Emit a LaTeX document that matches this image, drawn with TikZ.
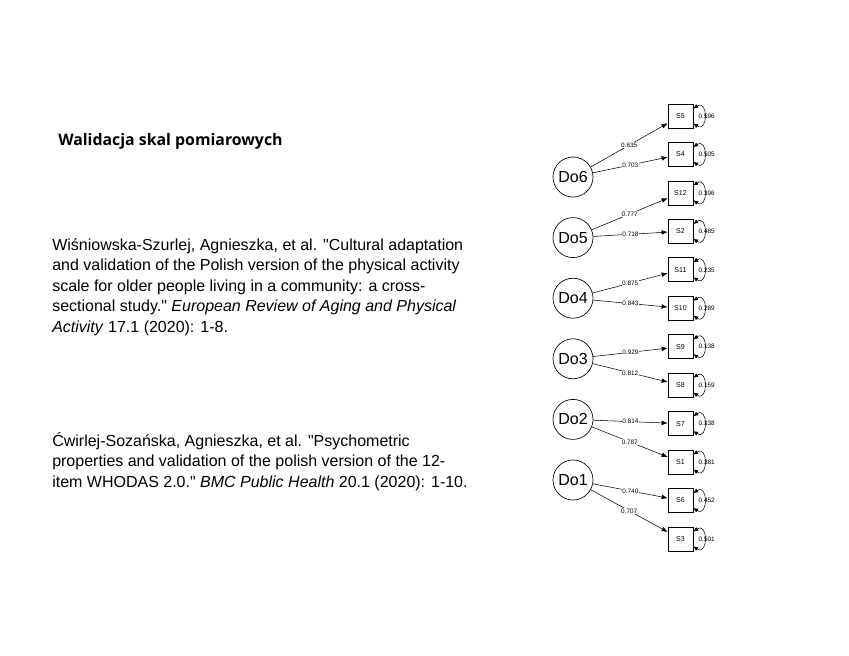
\documentclass[tikz,border=0pt]{standalone}
\usepackage{fontspec}
\setmainfont{Liberation Sans}[Ligatures=TeXOff]
\newfontfamily\titlefont{Open Sans}
\usetikzlibrary{arrows.meta}
\begin{document}
\begin{tikzpicture}[x=0.75pt,y=-0.75pt,
  latent/.style={circle,draw,line width=0.5pt,minimum size=30pt,inner sep=0pt,font=\fontsize{12}{14}\selectfont},
  manifest/.style={rectangle,draw,line width=0.5pt,minimum width=18.75pt,minimum height=18pt,inner sep=0pt,font=\fontsize{5.3}{6}\selectfont},
  load/.style={-{Latex[length=4.5pt,width=3.5pt]},line width=0.4pt},
  loadlab/.style={fill=white,inner sep=0.3pt,font=\fontsize{4.8}{5}\selectfont},
  reslab/.style={inner sep=0pt,font=\fontsize{4.8}{5}\selectfont},
  resid/.style={{Latex[length=3.5pt,width=3.2pt]}-{Latex[length=3.5pt,width=3.2pt]},line width=0.4pt},
  para/.style={anchor=north west,align=left,inner sep=0pt,font=\fontsize{12}{15.4}\selectfont}
]
\useasboundingbox (0,0) rectangle (849,656);
% title
\node[anchor=base west,inner sep=0pt,font=\titlefont\bfseries\fontsize{11.9}{13}\selectfont] (title) at (58,146) {Walidacja skal pomiarowych};
% references
\node[para] (ref1) at (52,238) {Wiśniowska-Szurlej, Agnieszka, et al. "Cultural adaptation\\and validation of the Polish version of the physical activity\\scale for older people living in a community: a cross-\\sectional study." \textit{European Review of Aging and Physical}\\\textit{Activity} 17.1 (2020): 1-8.};
\node[para] (ref2) at (52,432) {Ćwirlej-Sozańska, Agnieszka, et al. "Psychometric\\properties and validation of the polish version of the 12-\\item WHODAS 2.0." \textit{BMC Public Health} 20.1 (2020): 1-10.};
% latent
\node[latent] (Do6) at (573,177) {Do6};
\node[latent] (Do5) at (573,237.6) {Do5};
\node[latent] (Do4) at (573,298.2) {Do4};
\node[latent] (Do3) at (573,358.8) {Do3};
\node[latent] (Do2) at (573,419.4) {Do2};
\node[latent] (Do1) at (573,480) {Do1};
% manifest
\foreach \n/\i in {S5/0,S4/1,S12/2,S2/3,S11/4,S10/5,S9/6,S8/7,S7/8,S1/9,S6/10,S3/11}{
  \node[manifest] (\n) at (680.5,116+\i*38.45) {\n};
}
% loadings
\foreach \f/\s/\v in {Do6/S5/0.635,Do6/S4/0.703,Do5/S12/0.777,Do5/S2/0.718,Do4/S11/0.875,Do4/S10/0.843,Do3/S9/0.929,Do3/S8/0.812,Do2/S7/0.814,Do2/S1/0.787,Do1/S6/0.740,Do1/S3/0.707}{
  \draw[load] (\f) -- node[loadlab] {\v} (\s);
}
% residuals
\foreach \s/\v in {S5/0.596,S4/0.505,S12/0.396,S2/0.485,S11/0.235,S10/0.289,S9/0.138,S8/0.159,S7/0.338,S1/0.381,S6/0.452,S3/0.501}{
  \node[reslab] at ([xshift=10pt]\s.east) {\v};
  \draw[resid] ([yshift=5.6pt]\s.east) .. controls +(15,-10) and +(15,10) .. ([yshift=-5.6pt]\s.east);
}
\end{tikzpicture}
\end{document}
